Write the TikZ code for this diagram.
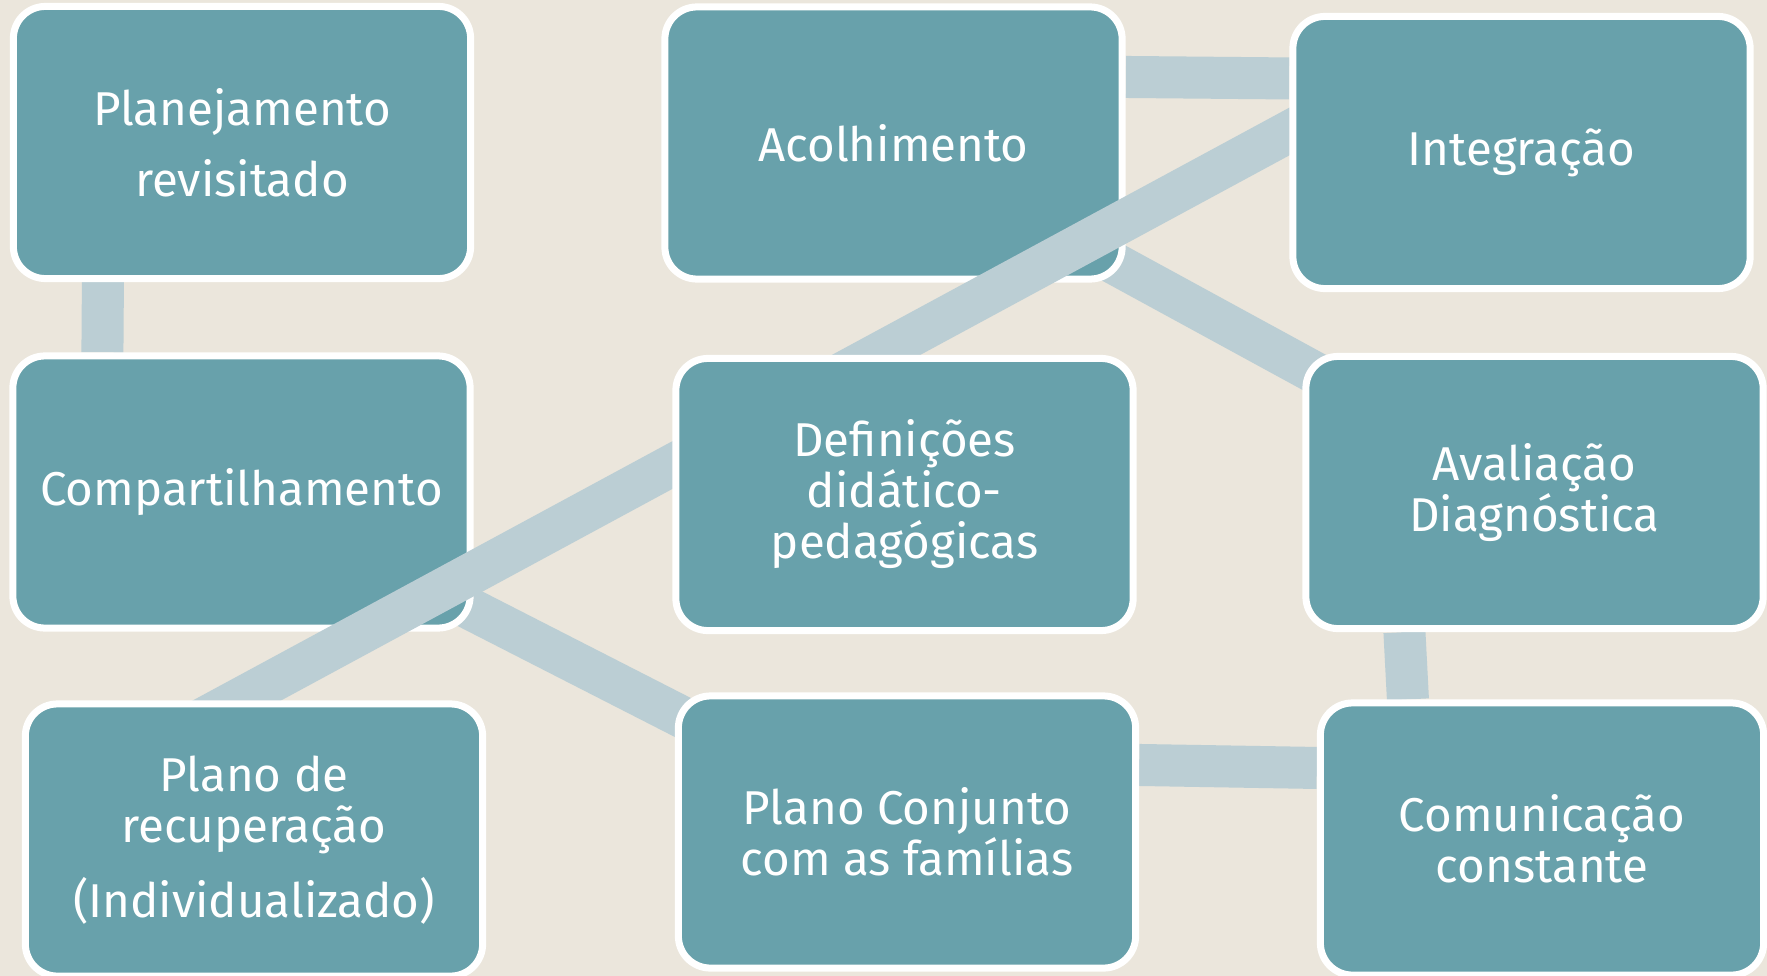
\documentclass[tikz,border=0pt]{standalone}
\usepackage{fontspec}
\setmainfont{Fira Sans}
\usetikzlibrary{backgrounds,calc}
\definecolor{corFundo}{HTML}{EBE6DC}
\definecolor{corCaixa}{HTML}{68A1AB}
\definecolor{corLigacao}{HTML}{BBCED4}
\pgfdeclarelayer{frente}
\pgfsetlayers{background,main,frente}
\begin{document}
\begin{tikzpicture}[x=0.01cm, y=-0.01cm, line join=round,
	caixa/.style={draw=white, line width=0.07cm, fill=corCaixa, rounded corners=0.32cm,
		minimum width=4.57cm, minimum height=2.72cm, inner sep=0pt, text=white,
		align=center, font=\fontsize{13.5}{14.5}\selectfont},
	ligacao/.style={draw=corLigacao, line width=0.42cm}]
	\useasboundingbox (0,0) rectangle (1767,976);
	\node[caixa] (plan) at (242,142.5) {Planejamento\\[5.7pt]revisitado};
	\node[caixa] (aco) at (893.5,143) {Acolhimento};
	\node[caixa] (comp) at (241.5,492) {Compartilhamento};
	\node[caixa] (ava) at (1534.5,492.5) {Avaliação\\Diagnóstica};
	\node[caixa] (conj) at (907,832) {Plano Conjunto\\com as famílias};
	\node[caixa, minimum width=4.43cm] (com) at (1542,839) {Comunicação\\constante};
	\begin{pgfonlayer}{frente}
		\node[caixa] (int) at (1521.5,152.5) {Integração};
		\node[caixa] (def) at (904.5,494.5) {Definições\\didático-\\pedagógicas};
		\node[caixa] (rec) at (254,840) {Plano de\\recuperação\\[5.7pt](Individualizado)};
	\end{pgfonlayer}
	% linha longa, por cima de aco e comp
	\coordinate (ini) at ([yshift=0.21cm]int.west);
	\coordinate (fim) at ([xshift=-0.17cm]rec.north);
	\draw[ligacao] ($(ini)!-0.04!(fim)$) -- ($(ini)!1.05!(fim)$);
	\begin{scope}[on background layer]
		\fill[corFundo] (0,0) rectangle (1767,976);
		\draw[ligacao] ([xshift=-1.39cm]plan.south) -- ([xshift=-1.39cm]comp.north);
		\draw[ligacao] ([yshift=0.66cm]aco.east) -- ([yshift=0.74cm]int.west);
		\draw[ligacao] (aco.center) -- (ava.center);
		\draw[ligacao] (comp.center) -- (conj.center);
		\draw[ligacao] ([xshift=-1.30cm]ava.south) -- ([xshift=-1.34cm]com.north);
		\draw[ligacao] ([yshift=0.67cm]conj.east) -- ([yshift=0.71cm]com.west);
	\end{scope}
\end{tikzpicture}
\end{document}
